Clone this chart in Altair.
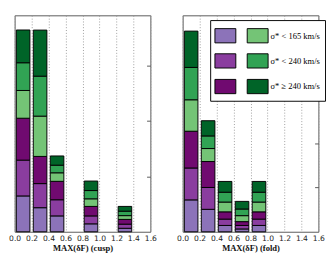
import altair as alt
import pandas as pd

series = ["p165", "p240", "p240+", "g165", "g240", "g240+"]
series_colors = {
    "p165": "#8c73b9",
    "p240": "#8a3d9f",
    "p240+": "#700a70",
    "g165": "#74c476",
    "g240": "#31a354",
    "g240+": "#006428",
}

cusp_bins = [0.0, 0.2, 0.4, 0.8, 1.2]
cusp_vals = {
    "p165": [0.646, 0.434, 0.286, 0.143, 0.063],
    "p240": [0.645, 0.434, 0.291, 0.143, 0.074],
    "p240+": [0.755, 0.490, 0.332, 0.171, 0.086],
    "g165": [0.500, 0.726, 0.154, 0.137, 0.068],
    "g240": [0.500, 0.720, 0.137, 0.149, 0.080],
    "g240+": [0.590, 0.830, 0.166, 0.171, 0.086],
}

fold_bins = [0.0, 0.2, 0.4, 0.6, 0.8]
fold_vals = {
    "p165": [0.720, 0.507, 0.143, 0.064, 0.143],
    "p240": [0.720, 0.493, 0.143, 0.079, 0.143],
    "p240+": [0.830, 0.586, 0.164, 0.086, 0.164],
    "g165": [0.710, 0.293, 0.221, 0.135, 0.221],
    "g240": [0.730, 0.285, 0.222, 0.150, 0.222],
    "g240+": [0.820, 0.343, 0.243, 0.172, 0.243],
}

x_ticks = [0.0, 0.2, 0.4, 0.6, 0.8, 1.0, 1.2, 1.4, 1.6]


def frame(bins, vals):
    rows = []
    for si, s in enumerate(series):
        for b, v in zip(bins, vals[s]):
            rows.append({"bin": b, "series": s, "order": si, "v": v})
    return pd.DataFrame(rows)


label_expr = (
    "datum.label == 'g165' ? 'σ* < 165 km/s' : "
    "datum.label == 'g240' ? 'σ* < 240 km/s' : "
    "datum.label == 'g240+' ? 'σ* ≥ 240 km/s' : ''"
)


def panel(df, title, ymax, yticks, width, legend):
    return (
        alt.Chart(df)
        .transform_stack(stack="v", as_=["y0", "y1"], groupby=["bin"], sort=[alt.SortField("order")])
        .transform_calculate(x1="datum.bin + 0.02", x2="datum.bin + 0.18")
        .mark_rect(stroke="black", strokeWidth=1, opacity=1)
        .encode(
            x=alt.X(
                "x1:Q",
                scale=alt.Scale(domain=[0, 1.6], nice=False, zero=False),
                axis=alt.Axis(
                    values=x_ticks,
                    format=".1f",
                    title=title,
                    grid=True,
                    gridDash=[1, 2],
                    gridColor="#999",
                    ticks=False,
                    domain=False,
                    labelPadding=3,
                    titlePadding=2,
                    labelOverlap=False,
                    labelFlush=False,
                    labelBound=False,
                ),
            ),
            x2="x2:Q",
            y=alt.Y(
                "y0:Q",
                scale=alt.Scale(domain=[0, ymax], nice=False),
                axis=alt.Axis(
                    orient="right",
                    offset=-4,
                    tickSize=4,
                    labels=False,
                    domain=False,
                    grid=False,
                    title=None,
                    values=yticks,
                    tickColor="#555",
                ),
            ),
            y2="y1:Q",
            color=alt.Color(
                "series:N",
                scale=alt.Scale(domain=series, range=[series_colors[s] for s in series]),
                legend=legend,
            ),
        )
        .properties(width=width, height=228)
    )


legend = alt.Legend(
    title=None,
    orient="none",
    legendX=29,
    legendY=5,
    columns=2,
    symbolType="M-1,-0.682H1V0.682H-1Z",
    symbolSize=484,
    symbolStrokeColor="black",
    symbolStrokeWidth=1,
    symbolOpacity=1,
    labelExpr=label_expr,
    labelFont="Liberation Serif",
    labelFontSize=9,
    labelColor="black",
    labelOffset=2,
    columnPadding=7,
    rowPadding=5,
    padding=4.5,
    strokeColor="black",
    fillColor="white",
)

left = panel(frame(cusp_bins, cusp_vals), "MAX(δF) (cusp)", 3.9, [1, 2, 3], 143, None)
right = panel(frame(fold_bins, fold_vals), "MAX(δF) (fold)", 4.886, [1, 2, 3, 4], 143, legend)

chart = (
    alt.hconcat(left, right, spacing=20)
    .resolve_scale(color="independent")
    .properties(padding={"left": 0, "right": 0, "top": 0, "bottom": 0})
    .configure_view(stroke="#555", strokeWidth=1)
    .configure_axis(
        labelFont="DejaVu Sans",
        labelFontSize=8,
        labelColor="#222",
        titleFont="Liberation Serif",
        titleFontSize=9,
        titleFontWeight="bold",
        titleColor="#111",
    )
)

chart.save("out.html", embed_options={"renderer": "svg", "actions": False})
